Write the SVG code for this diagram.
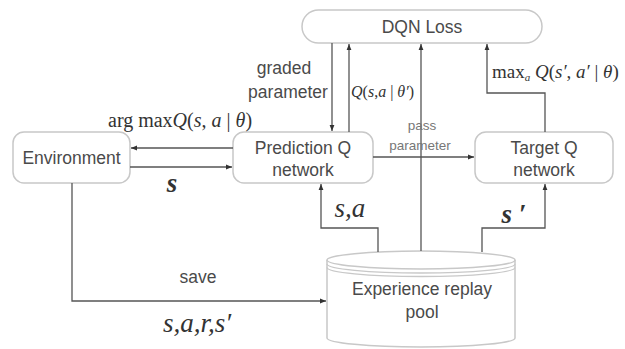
<svg xmlns="http://www.w3.org/2000/svg" width="625" height="349" viewBox="0 0 625 349">
<defs>
<marker id="ah" viewBox="0 0 10 10" refX="10" refY="5" markerWidth="6" markerHeight="6" markerUnits="userSpaceOnUse" orient="auto">
<path d="M0,1 L10,5 L0,9 z" fill="#333"/>
</marker>
<style>
.box{fill:#fff;stroke:#c8c8c8;stroke-width:1.5}
.lbl{font-family:"Liberation Sans",Arial,sans-serif;font-size:17.5px;fill:#4a4a4a;text-anchor:middle}
.small{font-family:"Liberation Sans",Arial,sans-serif;font-size:13.5px;fill:#777;text-anchor:middle}
.math{font-family:"Liberation Serif","Times New Roman",serif;fill:#333}
.it{font-style:italic}
.con{fill:none;stroke:#555;stroke-width:1.3}
.arr{marker-end:url(#ah)}
</style>
</defs>
<rect width="625" height="349" fill="#fff"/>

<g id="dqn-loss">
<rect class="box" x="302" y="10" width="240" height="33" rx="16.5"/>
<text class="lbl" x="422" y="33" font-size="17">DQN Loss</text>
</g>

<g id="environment">
<rect class="box" x="13" y="132" width="117" height="51" rx="11"/>
<text class="lbl" x="71.5" y="164">Environment</text>
</g>

<g id="prediction-q">
<rect class="box" x="233" y="132" width="140" height="51" rx="11"/>
<text class="lbl" x="303" y="154">Prediction Q</text>
<text class="lbl" x="303" y="176">network</text>
</g>

<g id="target-q">
<rect class="box" x="475" y="132" width="138" height="51" rx="11"/>
<text class="lbl" x="544" y="154">Target Q</text>
<text class="lbl" x="544" y="176">network</text>
</g>

<g id="replay-pool">
<path class="box" d="M327,260 L327,338 A94,9 0 0 0 515,338 L515,260"/>
<ellipse class="box" cx="421" cy="260" rx="94" ry="9"/>
<path fill="none" stroke="#c8c8c8" stroke-width="1.3" d="M327,264 A94,9 0 0 0 515,264"/>
<path fill="none" stroke="#c8c8c8" stroke-width="1.3" d="M327,267.5 A94,9 0 0 0 515,267.5"/>
<text class="lbl" x="422" y="295">Experience replay</text>
<text class="lbl" x="422" y="318">pool</text>
</g>

<g id="connectors">
<line class="con arr" x1="233" y1="148" x2="131" y2="148"/>
<line class="con arr" x1="130" y1="167" x2="232" y2="167"/>
<line class="con arr" x1="332" y1="43" x2="332" y2="131"/>
<line class="con arr" x1="349" y1="132" x2="349" y2="44"/>
<line class="con arr" x1="421" y1="251" x2="421" y2="44"/>
<line class="con arr" x1="373" y1="157" x2="474" y2="157"/>
<polyline class="con arr" points="545,132 545,93 487,93 487,44"/>
<polyline class="con arr" points="378,252 378,228 321,228 321,184"/>
<polyline class="con arr" points="482,252 482,228 545,228 545,184"/>
<polyline class="con arr" points="72,183 72,301 326,301"/>
</g>

<g id="labels">
<text class="lbl" x="284" y="74">graded</text>
<text class="lbl" x="288" y="98">parameter</text>
<text class="small" x="422" y="130">pass</text>
<text class="small" x="420" y="150">parameter</text>
<text class="lbl" x="198" y="283">save</text>
<text class="math" x="108" y="127" font-size="20">arg max<tspan class="it">Q</tspan>(<tspan class="it">s</tspan>, <tspan class="it">a</tspan> | <tspan class="it">θ</tspan>)</text>
<text class="math" x="351" y="97" font-size="16"><tspan class="it">Q</tspan>(<tspan class="it">s</tspan>,<tspan class="it">a</tspan> | <tspan class="it">θ′</tspan>)</text>
<text class="math" x="492" y="78" font-size="19">max<tspan class="it" font-size="11" dy="3">a</tspan><tspan class="it" dy="-3"> Q</tspan>(<tspan class="it">s′</tspan>, <tspan class="it">a′</tspan> | <tspan class="it">θ</tspan>)</text>
<text class="math it" x="172" y="192" font-size="27" font-weight="bold" text-anchor="middle">s</text>
<text class="math it" x="350" y="217" font-size="27" text-anchor="middle">s,a</text>
<text class="math it" x="514" y="223" font-size="27" font-weight="bold" text-anchor="middle">s ′</text>
<text class="math it" x="197" y="332" font-size="27" text-anchor="middle">s,a,r,s′</text>
</g>
</svg>
